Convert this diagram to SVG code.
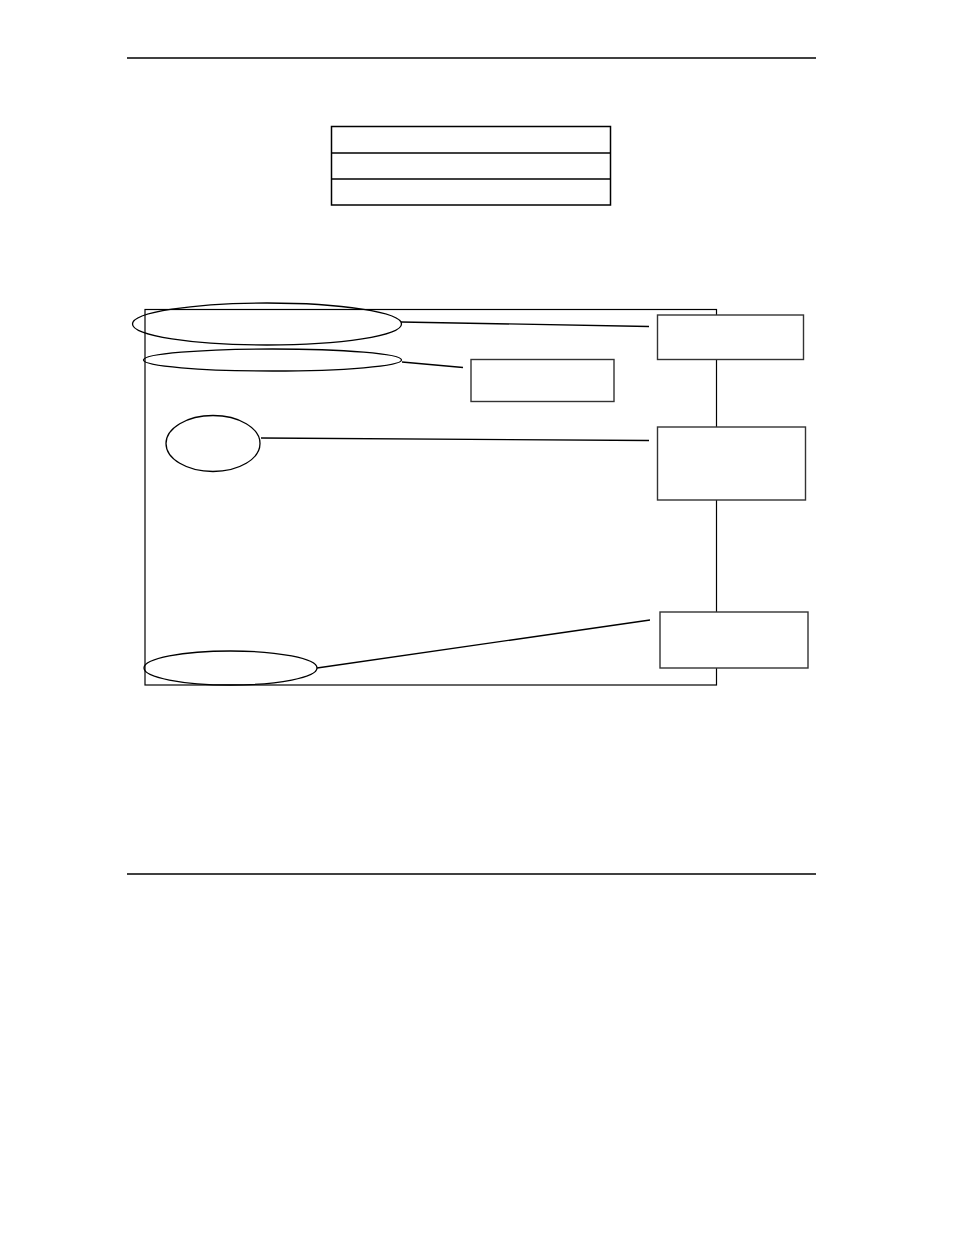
<svg xmlns="http://www.w3.org/2000/svg" width="954" height="1235" viewBox="0 0 954 1235">
<style>
.s{fill:none;stroke:#000;stroke-width:1.5}
.b{fill:#fff;stroke:#333;stroke-width:1.4}
.e{fill:none;stroke:#000;stroke-width:1.3}
.c{fill:none;stroke:#000;stroke-width:1.3}
</style>
<rect width="954" height="1235" fill="#fff"/>
<g id="rules">
<line x1="127" y1="58" x2="816" y2="58" class="s"/>
<line x1="127" y1="874" x2="816" y2="874" class="s"/>
</g>
<g id="table">
<rect x="331.5" y="126.5" width="279" height="78.5" class="s"/>
<line x1="331.5" y1="153" x2="610.5" y2="153" class="s"/>
<line x1="331.5" y1="179" x2="610.5" y2="179" class="s"/>
</g>
<g id="frame">
<rect x="145" y="309.5" width="571.5" height="375.5" class="s" style="stroke-width:1.2"/>
</g>
<g id="connectors">
<line x1="401" y1="322" x2="649" y2="326.5" class="c"/>
<line x1="402" y1="362" x2="463" y2="367.5" class="c"/>
<line x1="261" y1="438" x2="649" y2="440.5" class="c"/>
<line x1="317" y1="668" x2="650" y2="620" class="c"/>
</g>
<g id="ellipse1"><ellipse cx="267" cy="324" rx="134.5" ry="21" class="e"/></g>
<g id="ellipse2"><ellipse cx="272.5" cy="360" rx="129" ry="11" class="e"/></g>
<g id="ellipse3"><ellipse cx="213" cy="443.5" rx="47" ry="28" class="e"/></g>
<g id="ellipse4"><ellipse cx="230.5" cy="668" rx="86.5" ry="17" class="e"/></g>
<g id="boxMid"><rect x="471" y="359.5" width="143" height="42" class="b"/></g>
<g id="boxA"><rect x="657.5" y="315" width="146" height="44.5" class="b"/></g>
<g id="boxB"><rect x="657.5" y="427" width="148" height="73" class="b"/></g>
<g id="boxC"><rect x="660" y="612" width="148" height="56" class="b"/></g>
</svg>
